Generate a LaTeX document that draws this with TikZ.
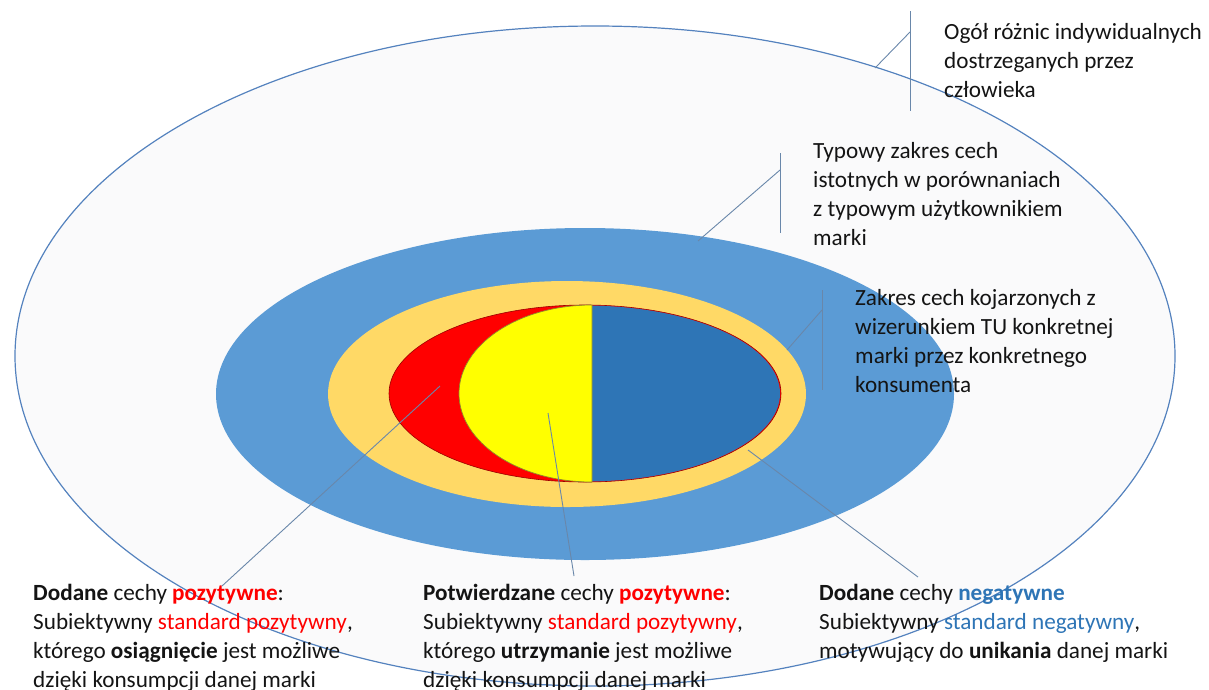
\documentclass[tikz,border=0pt]{standalone}
\usepackage{fontspec}
\setmainfont{Carlito}
\definecolor{txt}{RGB}{20,20,20}
\definecolor{ringline}{RGB}{84,130,190}
\definecolor{paper}{RGB}{250,250,251}
\definecolor{midblue}{RGB}{91,155,213}
\definecolor{gold}{RGB}{255,217,102}
\definecolor{purered}{RGB}{255,0,0}
\definecolor{lemon}{RGB}{255,255,0}
\definecolor{deepblue}{RGB}{46,117,182}
\definecolor{leader}{RGB}{105,135,170}
\newcommand{\posword}[1]{\textcolor{purered}{#1}}
\newcommand{\negword}[1]{\textcolor{deepblue}{#1}}
\tikzset{
  lbl/.style={anchor=base west, inner sep=0pt, text=txt,
    font=\fontsize{23.2}{29.2}\selectfont},
  leaderline/.style={draw=leader, line width=0.9pt},
}
\begin{document}
\begin{tikzpicture}[x=1pt,y=-1pt]
\useasboundingbox (0,0) rectangle (1209,689);

% nested ellipses
\filldraw[fill=paper, draw=ringline, line width=1.2pt] (595,356) ellipse (580pt and 330pt);
\fill[midblue] (585,394) ellipse (369pt and 166pt);
\fill[gold] (567,394) ellipse (239pt and 113pt);
\filldraw[fill=purered, draw=red!60!black, line width=0.6pt] (585,393.5) ellipse (196pt and 88.5pt);
\begin{scope}
  \clip (592,0) rectangle (900,689);
  \fill[deepblue] (585,393.5) ellipse (195pt and 88pt);
\end{scope}
\filldraw[fill=lemon, draw=olive!70!gray, line width=0.7pt]
  (592,305) arc[start angle=90, end angle=270, x radius=133pt, y radius=88.5pt] -- cycle;

% labels
\node[lbl] (ogol) at (944,39) {\begin{tabular}[t]{@{}l@{}}Ogół różnic indywidualnych\\dostrzeganych przez\\człowieka\end{tabular}};
\node[lbl] (typowy) at (813,158) {\begin{tabular}[t]{@{}l@{}}Typowy zakres cech\\istotnych w porównaniach\\z typowym użytkownikiem\\marki\end{tabular}};
\node[lbl] (zakres) at (855,305) {\begin{tabular}[t]{@{}l@{}}Zakres cech kojarzonych z\\wizerunkiem TU konkretnej\\marki przez konkretnego\\konsumenta\end{tabular}};
\node[lbl] (dodpos) at (33,600) {\begin{tabular}[t]{@{}l@{}}\textbf{Dodane} cechy \textbf{\posword{pozytywne}}:\\Subiektywny \posword{standard pozytywny},\\którego \textbf{osiągnięcie} jest możliwe\\dzięki konsumpcji danej marki\end{tabular}};
\node[lbl] (potw) at (423,600) {\begin{tabular}[t]{@{}l@{}}\textbf{Potwierdzane} cechy \textbf{\posword{pozytywne}}:\\Subiektywny \posword{standard pozytywny},\\którego \textbf{utrzymanie} jest możliwe\\dzięki konsumpcji danej marki\end{tabular}};
\node[lbl] (dodneg) at (819,600) {\begin{tabular}[t]{@{}l@{}}\textbf{Dodane} cechy \textbf{\negword{negatywne}}\\Subiektywny \negword{standard negatywny},\\motywujący do \textbf{unikania} danej marki\end{tabular}};

% callout bars and their pointers
\coordinate (barAtop) at (910,11);   \coordinate (barAbot) at (910,111);
\coordinate (barAmid) at (910,32);   \coordinate (tipA) at (875,68);
\coordinate (barBtop) at (780,153);  \coordinate (barBbot) at (780,233);
\coordinate (barBmid) at (780,170);  \coordinate (tipB) at (698,241);
\coordinate (barCtop) at (822,290);  \coordinate (barCbot) at (822,390);
\coordinate (barCmid) at (822,310);  \coordinate (tipC) at (787,350);
\draw[leaderline] (barAtop) -- (barAbot);
\draw[leaderline] (barAmid) -- (tipA);
\draw[leaderline] (barBtop) -- (barBbot);
\draw[leaderline] (barBmid) -- (tipB);
\draw[leaderline] (barCtop) -- (barCbot);
\draw[leaderline] (barCmid) -- (tipC);

% pointers from the lower labels into the inner shapes
\coordinate (inRed) at (440,386);
\coordinate (inYellow) at (548,413);
\coordinate (inBlue) at (748,450);
\coordinate (fromPos) at (222,586);
\coordinate (fromPotw) at (574,576);
\coordinate (fromNeg) at (918,577);
\draw[leaderline] (fromPos) -- (inRed);
\draw[leaderline] (fromPotw) -- (inYellow);
\draw[leaderline] (fromNeg) -- (inBlue);
\end{tikzpicture}
\end{document}
